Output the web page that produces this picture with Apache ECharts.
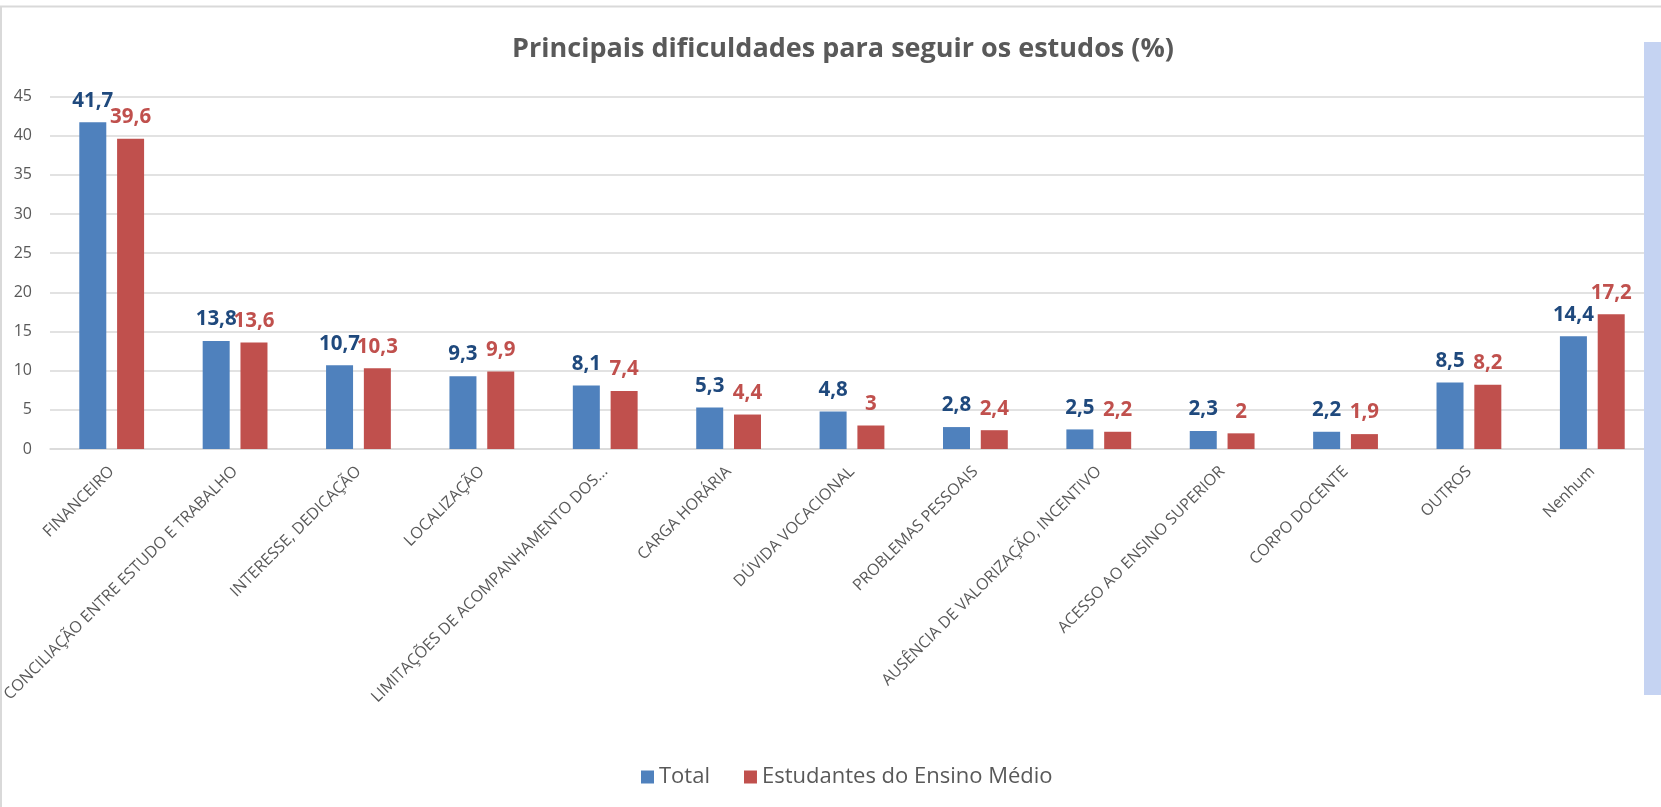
<!DOCTYPE html>
<html>
<head>
  <meta charset="utf-8">
  <title>Principais dificuldades para seguir os estudos</title>
  <script src="https://cdn.jsdelivr.net/npm/echarts@6/dist/echarts.min.js"></script>
  <style>
    html, body { margin: 0; padding: 0; background: #fff; }
    #myChart { width: 1661px; height: 807px; }
  </style>
</head>
<body>
<div id="myChart"></div>
<script>
// categorias do eixo x
const categories = [
  'FINANCEIRO',
  'CONCILIAÇÃO ENTRE ESTUDO E TRABALHO',
  'INTERESSE, DEDICAÇÃO',
  'LOCALIZAÇÃO',
  'LIMITAÇÕES DE ACOMPANHAMENTO DOS...',
  'CARGA HORÁRIA',
  'DÚVIDA VOCACIONAL',
  'PROBLEMAS PESSOAIS',
  'AUSÊNCIA DE VALORIZAÇÃO, INCENTIVO',
  'ACESSO AO ENSINO SUPERIOR',
  'CORPO DOCENTE',
  'OUTROS',
  'Nenhum'
]
const totalData = [41.7, 13.8, 10.7, 9.3, 8.1, 5.3, 4.8, 2.8, 2.5, 2.3, 2.2, 8.5, 14.4]
const medioData = [39.6, 13.6, 10.3, 9.9, 7.4, 4.4, 3.0, 2.4, 2.2, 2.0, 1.9, 8.2, 17.2]
const seriesNames = ['Total', 'Estudantes do Ensino Médio']
const yTicks = { min: 0, max: 45, interval: 5 }

const font = "'Open Sans', 'Noto Sans', sans-serif"
const gray = '#595959'

// 41.7 -> "41,7"
function fmt (p) {
  return String(p.value).replace('.', ',')
}

const myChart = echarts.init(document.getElementById('myChart'))
const option = {
  animation: false,
  color: ['#4F81BD', '#C0504D'],
  title: {
    text: 'Principais dificuldades para seguir os estudos (%)',
    left: 838,
    top: 31,
    textAlign: 'center',
    textStyle: {
      fontFamily: font,
      fontWeight: 'bold',
      fontSize: 27,
      color: gray
    }
  },
  legend: {
    data: seriesNames,
    left: 636,
    top: 761,
    itemWidth: 13,
    itemHeight: 13,
    itemGap: 34,
    icon: 'rect',
    textStyle: {
      fontFamily: font,
      fontSize: 22,
      color: gray
    }
  },
  grid: {
    left: 50,
    right: 7,
    top: 96.5,
    bottom: 358,
    containLabel: false,
    outerBoundsMode: 'none'
  },
  xAxis: {
    type: 'category',
    data: categories,
    axisLine: { lineStyle: { color: '#D9D9D9', width: 1.5 } },
    axisTick: { show: false },
    axisLabel: {
      interval: 0,
      rotate: 45,
      margin: 20,
      fontFamily: font,
      fontSize: 16,
      color: gray
    }
  },
  yAxis: {
    type: 'value',
    min: yTicks.min,
    max: yTicks.max,
    interval: yTicks.interval,
    axisLine: { show: false },
    axisTick: { show: false },
    axisLabel: {
      margin: 18,
      fontFamily: font,
      fontSize: 16,
      color: gray
    },
    splitLine: { lineStyle: { color: '#D9D9D9', width: 1.5 } }
  },
  series: [
    {
      name: seriesNames[0],
      type: 'bar',
      data: totalData,
      barWidth: 27,
      barGap: '40%',
      label: {
        show: true,
        position: 'top',
        distance: 11,
        formatter: fmt,
        fontFamily: font,
        fontWeight: 'bold',
        fontSize: 20.5,
        color: '#1F497D'
      }
    },
    {
      name: seriesNames[1],
      type: 'bar',
      data: medioData,
      barWidth: 27,
      barGap: '40%',
      label: {
        show: true,
        position: 'top',
        distance: 11,
        formatter: fmt,
        fontFamily: font,
        fontWeight: 'bold',
        fontSize: 20.5,
        color: '#C0504D'
      }
    }
  ],
  // moldura do gráfico e faixa azul à direita
  graphic: [
    { type: 'line', shape: { x1: 0, y1: 6.5, x2: 1661, y2: 6.5 }, style: { stroke: '#D9D9D9', lineWidth: 2 } },
    { type: 'line', shape: { x1: 1, y1: 6, x2: 1, y2: 807 }, style: { stroke: '#D9D9D9', lineWidth: 2 } },
    { type: 'rect', shape: { x: 1644, y: 42, width: 17, height: 653 }, style: { fill: '#C5D3F2' }, z: 100 }
  ]
}
myChart.setOption(option)
</script>
</body>
</html>
